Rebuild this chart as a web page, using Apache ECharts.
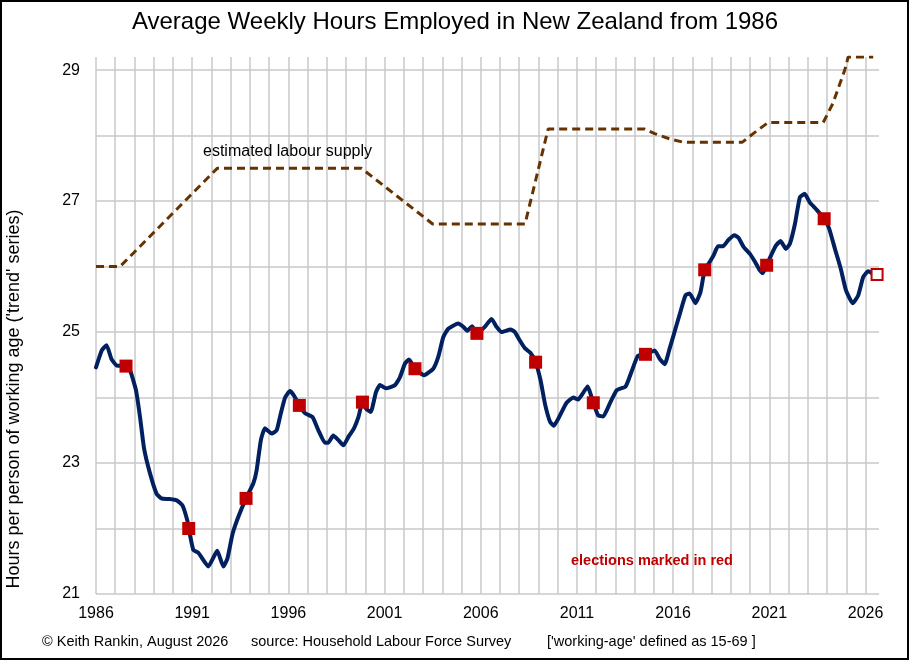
<!DOCTYPE html>
<html>
<head>
<meta charset="utf-8">
<script src="https://cdn.jsdelivr.net/npm/echarts@6/dist/echarts.min.js"></script>
<style>
html,body{margin:0;padding:0;background:#fff;}
#chart{width:910px;height:661px;}
</style>
</head>
<body>
<div id="chart"></div>
<script>
// ---- data ----
const trendYears = [1986.0,1986.3,1986.55,1986.8,1987.07,1987.56,1987.8,1988.08,1988.29,1988.5,1988.8,1989.15,1989.4,1989.8,1990.2,1990.5,1990.75,1990.82,1991.06,1991.32,1991.84,1992.3,1992.62,1992.83,1993.1,1993.4,1993.8,1994.18,1994.35,1994.57,1994.78,1995.13,1995.39,1995.6,1995.83,1996.08,1996.29,1996.57,1996.87,1997.26,1997.56,1997.9,1998.07,1998.33,1998.6,1998.86,1999.12,1999.41,1999.64,1999.85,2000.04,2000.28,2000.55,2000.76,2001.07,2001.54,2001.8,2002.06,2002.27,2002.58,2003.05,2003.53,2003.79,2004.05,2004.31,2004.83,2005.09,2005.3,2005.55,2005.8,2006.21,2006.56,2006.82,2007.08,2007.55,2007.77,2008.03,2008.3,2008.59,2008.85,2009.11,2009.34,2009.6,2009.8,2010.12,2010.46,2010.81,2011.06,2011.32,2011.55,2011.85,2012.1,2012.36,2012.71,2013.06,2013.53,2013.83,2014.17,2014.56,2015.04,2015.3,2015.56,2015.82,2016.12,2016.38,2016.64,2016.86,2017.16,2017.42,2017.64,2017.9,2018.1,2018.33,2018.59,2018.88,2019.18,2019.4,2019.66,2020.0,2020.26,2020.49,2020.66,2020.86,2021.12,2021.34,2021.58,2021.86,2022.07,2022.33,2022.59,2022.84,2023.1,2023.45,2023.85,2024.11,2024.41,2024.71,2024.98,2025.33,2025.62,2025.88,2026.14,2026.32];
const trendHours = [24.46,24.72,24.80,24.59,24.49,24.48,24.39,24.11,23.70,23.22,22.85,22.53,22.46,22.45,22.43,22.35,22.12,22.00,21.67,21.63,21.42,21.66,21.42,21.54,21.92,22.18,22.46,22.69,22.89,23.35,23.53,23.45,23.50,23.75,24.00,24.10,24.03,23.88,23.76,23.70,23.50,23.31,23.31,23.42,23.35,23.27,23.40,23.53,23.70,23.93,23.83,23.78,24.08,24.19,24.14,24.19,24.31,24.52,24.58,24.44,24.34,24.44,24.62,24.92,25.05,25.13,25.08,25.02,25.09,24.98,25.08,25.20,25.08,25.00,25.04,25.00,24.87,24.75,24.68,24.54,24.26,23.90,23.63,23.57,23.73,23.92,24.00,23.97,24.07,24.17,23.92,23.73,23.71,23.91,24.11,24.17,24.39,24.64,24.66,24.72,24.59,24.51,24.75,25.05,25.31,25.56,25.59,25.44,25.61,25.95,26.07,26.17,26.31,26.31,26.41,26.48,26.44,26.30,26.19,26.07,25.95,25.90,26.02,26.19,26.32,26.39,26.27,26.35,26.65,27.06,27.11,26.98,26.87,26.73,26.58,26.27,25.97,25.64,25.44,25.56,25.84,25.93,25.90];

const supplyYears = [1986.0,1987.25,1992.3,1999.8,2003.5,2008.3,2009.5,2014.52,2015.04,2015.82,2016.5,2019.6,2020.16,2020.94,2023.8,2024.3,2024.92,2025.1,2026.4];
const supplyHours = [26.0,26.0,27.5,27.5,26.65,26.65,28.1,28.1,28.03,27.95,27.9,27.9,28.03,28.2,28.2,28.49,29.0,29.2,29.2];

const electionYears = [1987.56,1990.82,1993.8,1996.57,1999.85,2002.58,2005.8,2008.85,2011.85,2014.56,2017.64,2020.86,2023.85];
const electionHours = [24.48,22.00,22.46,23.88,23.93,24.44,24.98,24.54,23.92,24.66,25.95,26.02,26.73];

const latestYear = [2026.6];
const latestHours = [25.88];

const xTickLabels = [1986,1991,1996,2001,2006,2011,2016,2021,2026];
const yTickLabels = [21,23,25,27,29];

const titleText = 'Average Weekly Hours Employed in New Zealand from 1986';
const yAxisTitle = "Hours per person of working age ('trend' series)";
const supplyLabel = 'estimated labour supply';
const electionNote = 'elections marked in red';
const footerParts = ['\u00A9 Keith Rankin, August 2026', 'source: Household Labour Force Survey', "['working-age' defined as 15-69 ]"];

// ---- build ----
const zip = (a, b) => a.map((v, i) => [v, b[i]]);
const FONT = "'Liberation Sans', Arial, sans-serif";
const isTick = (list, v) => list.some(t => Math.abs(t - v) < 1e-6);

const chart = echarts.init(document.getElementById('chart'), null, {renderer: 'canvas'});
chart.setOption({
  backgroundColor: '#ffffff',
  animation: false,
  grid: {left: 96, right: 31, top: 57, bottom: 67, containLabel: false},
  xAxis: {
    type: 'value', min: 1986, max: 2026.7, interval: 1,
    axisLine: {show: false}, axisTick: {show: false},
    axisLabel: {
      color: '#000', fontFamily: FONT, fontSize: 16, margin: 12,
      showMaxLabel: false,
      formatter: v => isTick(xTickLabels, v) ? String(Math.round(v)) : ''
    },
    splitLine: {show: true, showMaxLine: false, lineStyle: {color: '#c8c8c8', width: 1.5}}
  },
  yAxis: {
    type: 'value', min: 21, max: 29.2, interval: 1,
    axisLine: {show: false}, axisTick: {show: false},
    axisLabel: {
      color: '#000', fontFamily: FONT, fontSize: 16, margin: 16,
      showMaxLabel: false,
      formatter: v => isTick(yTickLabels, v) ? String(Math.round(v)) : ''
    },
    splitLine: {show: true, showMaxLine: false, lineStyle: {color: '#c8c8c8', width: 1.5}}
  },
  series: [
    {
      name: 'labour supply', type: 'line', data: zip(supplyYears, supplyHours),
      showSymbol: false, symbol: 'none', z: 3,
      lineStyle: {color: '#663300', width: 3, type: [8, 5], cap: 'butt'}
    },
    {
      name: 'trend', type: 'line', data: zip(trendYears, trendHours),
      showSymbol: false, symbol: 'none', smooth: 0.15, z: 4,
      lineStyle: {color: '#002060', width: 4, join: 'round', cap: 'round'}
    },
    {
      name: 'elections', type: 'scatter', data: zip(electionYears, electionHours),
      symbol: 'rect', symbolSize: 13, z: 5,
      itemStyle: {color: '#c00000', opacity: 1}
    },
    {
      name: 'latest', type: 'scatter', data: zip(latestYear, latestHours),
      symbol: 'rect', symbolSize: 11, z: 5,
      itemStyle: {color: '#ffffff', borderColor: '#c00000', borderWidth: 2, opacity: 1}
    }
  ],
  graphic: [
    {type: 'rect', z: 100, silent: true, shape: {x: 1, y: 1, width: 907, height: 658},
      style: {fill: 'none', stroke: '#000', lineWidth: 2}},
    {type: 'text', x: 455, y: 22, z: 100, style: {text: titleText, font: '24px ' + FONT, fill: '#000', align: 'center', verticalAlign: 'middle'}},
    {type: 'text', x: 14, y: 399, rotation: Math.PI / 2, z: 100,
      style: {text: yAxisTitle, font: '18px ' + FONT, fill: '#000', align: 'center', verticalAlign: 'middle'}},
    {type: 'text', x: 203, y: 152, z: 100, style: {text: supplyLabel, font: '16px ' + FONT, fill: '#000', align: 'left', verticalAlign: 'middle'}},
    {type: 'text', x: 571, y: 561, z: 100, style: {text: electionNote, font: 'bold 14.5px ' + FONT, fill: '#c00000', align: 'left', verticalAlign: 'middle'}},
    {type: 'text', x: 42, y: 642, z: 100, style: {text: footerParts[0], font: '14.5px ' + FONT, fill: '#000', align: 'left', verticalAlign: 'middle'}},
    {type: 'text', x: 251, y: 642, z: 100, style: {text: footerParts[1], font: '14.5px ' + FONT, fill: '#000', align: 'left', verticalAlign: 'middle'}},
    {type: 'text', x: 547, y: 642, z: 100, style: {text: footerParts[2], font: '14.5px ' + FONT, fill: '#000', align: 'left', verticalAlign: 'middle'}}
  ]
});
</script>
</body>
</html>
